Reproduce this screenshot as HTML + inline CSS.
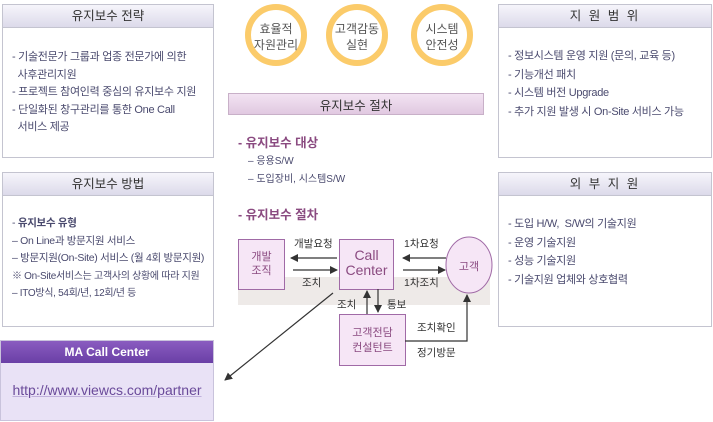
<!DOCTYPE html>
<html><head><meta charset="utf-8"><style>
*{margin:0;padding:0;box-sizing:border-box}
body{width:713px;height:422px;background:#fff;position:relative;overflow:hidden;font-family:"Liberation Sans","Noto Sans CJK KR",sans-serif;color:#4a4a6e;font-size:11px}
.box{position:absolute;border:1px solid #c4c4d0;background:#fff}
.hd{height:23px;line-height:22px;text-align:center;font-size:12.5px;color:#333;background:linear-gradient(#f6f5fb,#dcdaea);border-bottom:1px solid #c4c4d0}
.ls{position:absolute;left:9px;line-height:17.5px;font-size:11px;letter-spacing:-0.3px}
.a{position:absolute;white-space:nowrap}
</style></head><body>
<div class="box" style="left:2px;top:4px;width:212px;height:154px"><div class="hd">유지보수 전략</div>
<div class="ls" style="top:44px">- 기술전문가 그룹과 업종 전문가에 의한<br>&nbsp;&nbsp;사후관리지원<br>- 프로젝트 참여인력 중심의 유지보수 지원<br>- 단일화된 창구관리를 통한 One Call<br>&nbsp;&nbsp;서비스 제공</div></div>
<div class="box" style="left:2px;top:172px;width:212px;height:155px"><div class="hd">유지보수 방법</div>
<div class="ls" style="top:42px;font-size:10.5px;line-height:17.5px">- <b style="font-weight:bold">유지보수 유형</b><br>– On Line과 방문지원 서비스<br>– 방문지원(On-Site) 서비스 (월 4회 방문지원)<br><span style="font-size:10px">※ On-Site서비스는 고객사의 상황에 따라 지원</span><br><span style="font-size:10px">– ITO방식, 54회/년, 12회/년 등</span></div></div>
<div style="position:absolute;left:0;top:340px;width:214px;height:81px;border:1px solid #c9c3dc;background:#e9e2f6">
<div style="height:22px;line-height:22px;text-align:center;color:#fff;font-weight:bold;font-size:12px;background:linear-gradient(#8a5cc0,#6a3fa6)">MA Call Center</div>
<div style="text-align:center;margin-top:19px;font-size:14px;color:#6a4a9a;text-decoration:underline;text-decoration-color:#c0b0dc">http://www.viewcs.com/partner</div></div>

<div class="box" style="left:498px;top:4px;width:214px;height:154px"><div class="hd" style="letter-spacing:2px">지 원 범 위</div>
<div class="ls" style="top:42px;line-height:18.5px">- 정보시스템 운영 지원 (문의, 교육 등)<br>- 기능개선 패치<br>- 시스템 버전 Upgrade<br>- 추가 지원 발생 시 On-Site 서비스 가능</div></div>
<div class="box" style="left:498px;top:172px;width:214px;height:155px"><div class="hd" style="letter-spacing:2px">외 부 지 원</div>
<div class="ls" style="top:42px;line-height:18.5px">- 도입 H/W,&nbsp; S/W의 기술지원<br>- 운영 기술지원<br>- 성능 기술지원<br>- 기술지원 업체와 상호협력</div></div>

<svg style="position:absolute;left:0;top:0" width="713" height="422">
<g fill="#fff" stroke="#fbcb6a" stroke-width="6">
<circle cx="276" cy="35" r="28"/><circle cx="357" cy="35" r="28"/><circle cx="442" cy="35" r="28"/></g>
<defs><linearGradient id="g" x1="0" y1="0" x2="0" y2="1"><stop offset="0" stop-color="#f3e4f3"/><stop offset="1" stop-color="#e0c8e0"/></linearGradient>
<marker id="m" markerWidth="8" markerHeight="8" refX="7" refY="4" orient="auto" markerUnits="userSpaceOnUse"><path d="M0,0 L8,4 L0,8z" fill="#333"/></marker></defs>
<rect x="228.5" y="93.5" width="255" height="21" fill="url(#g)" stroke="#c8b0c8"/>
<rect x="238" y="277" width="252" height="28" fill="#eeeae8"/>
<g fill="#f6e6f6" stroke="#a06aa6">
<rect x="238.5" y="239.5" width="46" height="50"/><rect x="339.5" y="239.5" width="54" height="50"/>
<ellipse cx="469" cy="265" rx="23" ry="28"/><rect x="339.5" y="314.5" width="66" height="51"/></g>
<g stroke="#333" stroke-width="1.2" fill="none" marker-end="url(#m)">
<line x1="337" y1="258" x2="291" y2="258"/><line x1="293" y1="270" x2="337" y2="270"/>
<line x1="446" y1="258" x2="403" y2="258"/><line x1="403" y1="270" x2="445" y2="270"/>
<line x1="367" y1="314" x2="367" y2="291"/><line x1="378" y1="289" x2="378" y2="312"/>
<polyline points="405,341 467,341 467,295"/><line x1="333" y1="293" x2="225" y2="380"/></g>
</svg>
<div class="a" style="left:246px;top:21px;width:60px;text-align:center;font-size:12px;line-height:16px;color:#555">효율적<br>자원관리</div>
<div class="a" style="left:327px;top:21px;width:60px;text-align:center;font-size:12px;line-height:16px;color:#555">고객감동<br>실현</div>
<div class="a" style="left:412px;top:21px;width:60px;text-align:center;font-size:12px;line-height:16px;color:#555">시스템<br>안전성</div>
<div class="a" style="left:228px;top:95px;width:256px;text-align:center;font-size:12.5px;color:#333">유지보수 절차</div>
<div class="a" style="left:238px;top:132px;font-size:12.5px;color:#8a4a80;font-weight:bold">- 유지보수 대상</div>
<div class="a" style="left:248px;top:152px;font-size:10px">– 응용S/W</div>
<div class="a" style="left:248px;top:170px;font-size:10px">– 도입장비, 시스템S/W</div>
<div class="a" style="left:238px;top:204px;font-size:12.5px;color:#8a4a80;font-weight:bold">- 유지보수 절차</div>
<div class="a" style="left:238px;top:250px;width:47px;text-align:center;font-size:11px;line-height:14px;color:#8a4a80">개발<br>조직</div>
<div class="a" style="left:339px;top:248px;width:55px;text-align:center;font-size:14px;line-height:15px;color:#8a4a80">Call<br>Center</div>
<div class="a" style="left:446px;top:258px;width:46px;text-align:center;font-size:11px;color:#8a4a80">고객</div>
<div class="a" style="left:339px;top:326px;width:67px;text-align:center;font-size:11px;line-height:15px;color:#8a4a80">고객전담<br>컨설턴트</div>
<div class="a" style="left:294px;top:236px;font-size:10.5px;color:#333">개발요청</div>
<div class="a" style="left:302px;top:275px;font-size:10.5px;color:#333">조치</div>
<div class="a" style="left:404px;top:236px;font-size:10.5px;color:#333">1차요청</div>
<div class="a" style="left:404px;top:275px;font-size:10.5px;color:#333">1차조치</div>
<div class="a" style="left:337px;top:297px;font-size:10.5px;color:#333">조치</div>
<div class="a" style="left:387px;top:297px;font-size:10.5px;color:#333">통보</div>
<div class="a" style="left:417px;top:320px;font-size:10.5px;color:#333">조치확인</div>
<div class="a" style="left:417px;top:345px;font-size:10.5px;color:#333">정기방문</div>
</body></html>
